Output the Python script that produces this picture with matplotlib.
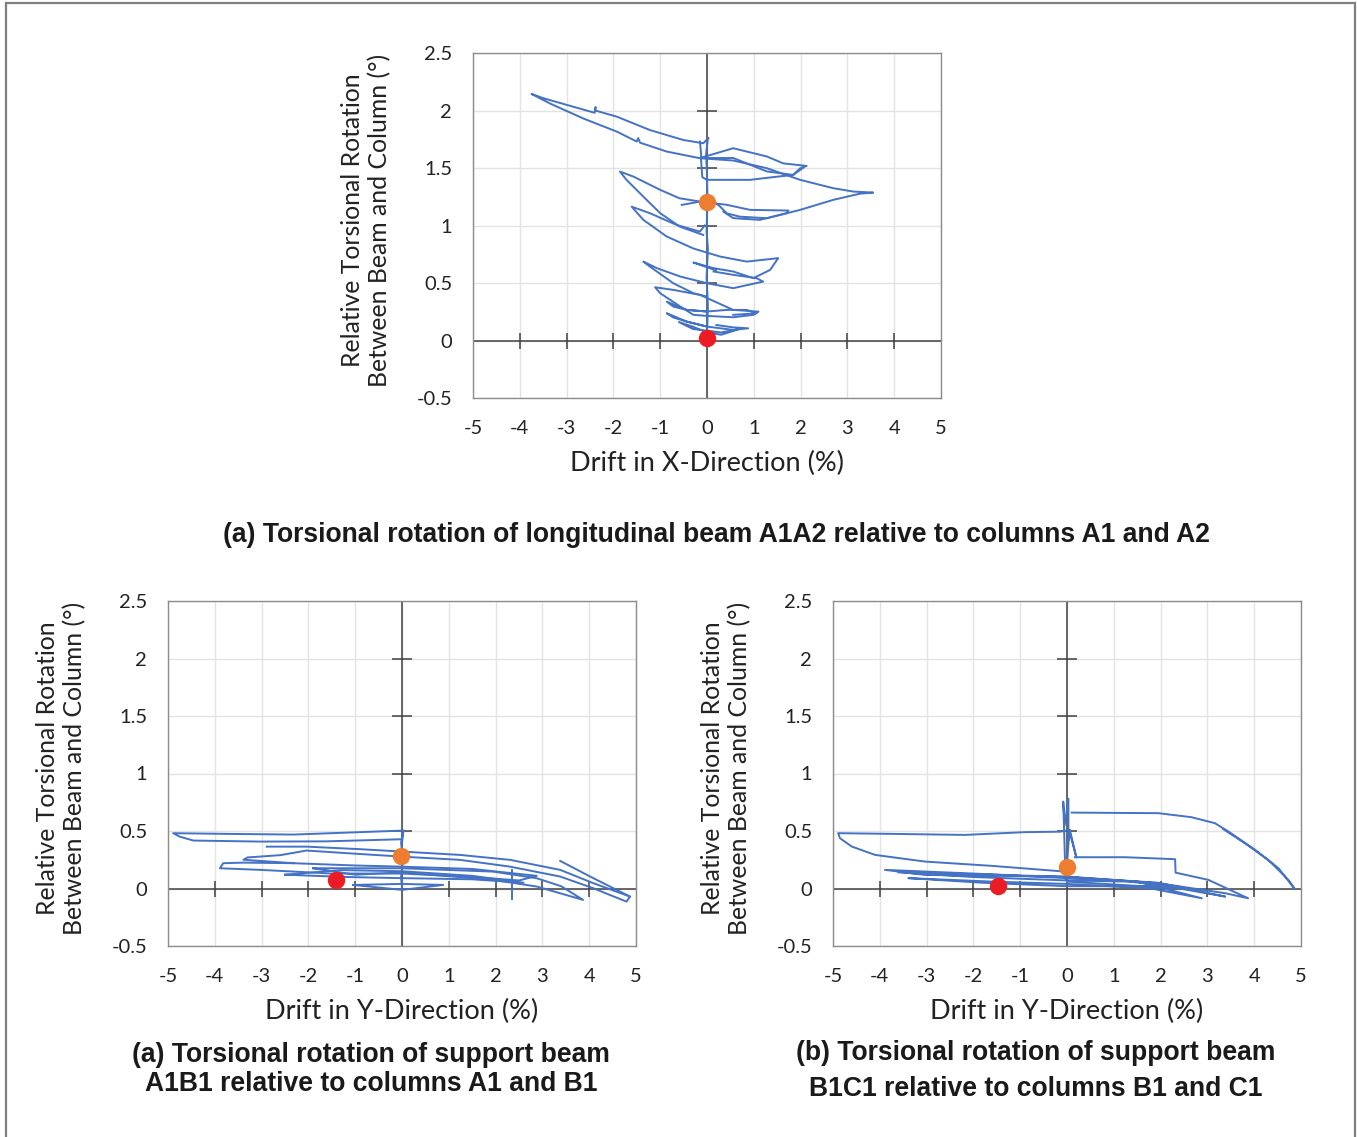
import matplotlib
matplotlib.use("Agg")
import matplotlib.pyplot as plt
from matplotlib.patches import Rectangle

W, H = 1357, 1137
DPI = 100

# ---------------- data ----------------
x_ticks = [-5, -4, -3, -2, -1, 0, 1, 2, 3, 4, 5]
y_ticks = [-0.5, 0, 0.5, 1, 1.5, 2, 2.5]
y_tick_labels = ["-0.5", "0", "0.5", "1", "1.5", "2", "2.5"]

# (a) longitudinal beam A1A2, drift in X
a_loop1 = [(0.03, 1.76), (-0.08, 1.715), (-0.51, 1.744), (-1.22, 1.83), (-1.93, 1.947),
           (-2.39, 2.0), (-2.38, 2.03), (-2.40, 1.98), (-3.50, 2.107), (-3.75, 2.144),
           (-3.35, 2.06), (-2.64, 1.93), (-1.93, 1.817), (-1.50, 1.73), (-1.47, 1.76),
           (-1.43, 1.72), (-0.86, 1.643), (-0.15, 1.585), (0.56, 1.565), (1.28, 1.498),
           (1.99, 1.397), (2.70, 1.324), (3.13, 1.295), (3.55, 1.286), (3.27, 1.277),
           (2.70, 1.223), (1.99, 1.136), (1.28, 1.063), (0.70, 1.077), (0.42, 1.106),
           (0.28, 1.165), (0.14, 1.208), (-0.15, 1.208), (-0.54, 1.179)]
a_loop2 = [(-0.15, 1.73), (-0.12, 1.59), (0.56, 1.672), (1.28, 1.60), (1.63, 1.54),
           (2.13, 1.518), (1.99, 1.497), (1.84, 1.44), (1.40, 1.42), (0.92, 1.397),
           (0.0, 1.397), (-0.10, 1.42), (-0.13, 1.59)]
a_loop2b = [(-0.10, 1.587), (0.56, 1.587), (1.28, 1.47), (1.84, 1.44), (2.05, 1.50)]
a_loop3 = [(-0.08, 0.918), (-0.58, 0.99), (-1.0, 1.107), (-1.36, 1.251), (-1.72, 1.397),
           (-1.86, 1.469), (-1.57, 1.425), (-1.0, 1.31), (-0.59, 1.237), (-0.15, 1.208),
           (0.42, 1.18), (0.92, 1.136), (1.74, 1.13), (1.70, 1.107), (1.13, 1.049),
           (0.56, 1.064), (0.35, 1.12)]
a_loop4 = [(-0.05, 1.0), (-0.15, 0.947), (-0.65, 1.005), (-1.22, 1.107), (-1.61, 1.164),
           (-1.36, 1.049), (-0.86, 0.904), (-0.29, 0.80), (0.28, 0.73), (0.85, 0.686),
           (1.52, 0.716), (1.35, 0.614), (0.99, 0.542), (0.56, 0.60), (0.14, 0.629),
           (-0.29, 0.678), (0.19, 0.61)]
a_loop5 = [(0.0, 0.382), (-0.29, 0.411), (-0.72, 0.498), (-1.22, 0.643), (-1.36, 0.686),
           (-1.07, 0.629), (-0.57, 0.556), (0.0, 0.498), (0.56, 0.455), (1.20, 0.512),
           (1.06, 0.542), (0.56, 0.571), (0.14, 0.60)]
a_loop6 = [(0.0, 0.214), (-0.29, 0.223), (-0.57, 0.295), (-1.0, 0.411), (-1.11, 0.463),
           (-0.72, 0.44), (-0.15, 0.397), (0.56, 0.266), (1.10, 0.251), (0.99, 0.223),
           (0.56, 0.202), (0.0, 0.214)]
a_loop7 = [(0.0, 0.252), (-0.43, 0.266), (-0.72, 0.295), (-0.86, 0.338), (-0.43, 0.266),
           (0.0, 0.252), (0.42, 0.266), (0.85, 0.266), (1.06, 0.237), (0.56, 0.223)]
a_loop8 = [(0.0, 0.121), (-0.43, 0.164), (-0.72, 0.20), (-0.86, 0.237), (-0.43, 0.164),
           (0.0, 0.121), (0.56, 0.092), (0.88, 0.106), (0.56, 0.114), (0.20, 0.135)]
a_loop9 = [(0.0, 0.07), (-0.30, 0.12), (-0.60, 0.16), (-0.30, 0.10), (0.30, 0.07),
           (0.70, 0.10), (0.30, 0.05), (0.0, 0.07)]
a_spine = [(0.0, 0.05), (0.02, 0.30), (-0.01, 0.55), (0.02, 0.80), (-0.01, 0.95),
           (0.01, 1.20), (0.0, 1.45), (-0.02, 1.62), (0.02, 1.76)]
a_red = (0.0, 0.02)
a_orange = (0.0, 1.205)

# (a) support beam A1B1, drift in Y
b_loop1 = [(0.03, 0.504), (-0.90, 0.49), (-2.32, 0.469), (-3.75, 0.475), (-4.89, 0.481),
           (-4.75, 0.451), (-4.46, 0.417), (-3.03, 0.408), (-1.61, 0.41), (-0.04, 0.428)]
b_loop2 = [(-2.89, 0.364), (-2.04, 0.364), (-0.90, 0.342), (0.0, 0.321), (1.24, 0.292),
           (2.31, 0.249), (3.38, 0.162), (4.09, 0.046), (4.87, -0.07), (4.80, -0.114),
           (4.44, -0.056), (4.09, 0.002), (3.38, 0.104), (2.31, 0.19), (1.24, 0.249),
           (0.0, 0.277), (-0.90, 0.30), (-2.04, 0.33), (-2.60, 0.29), (-3.30, 0.27),
           (-3.39, 0.25), (-2.32, 0.22), (-1.0, 0.20), (0.0, 0.19), (1.50, 0.17),
           (2.88, 0.11), (2.50, 0.07), (1.50, 0.10), (0.0, 0.13), (-1.50, 0.13),
           (-3.03, 0.162), (-3.89, 0.176), (-3.82, 0.22), (-3.39, 0.225), (-2.32, 0.22)]
b_loop3 = [(3.38, 0.24), (4.02, 0.104), (4.87, -0.07)]
b_loop4 = [(-1.90, 0.176), (0.0, 0.176), (1.95, 0.147), (2.88, 0.089), (3.40, 0.02),
           (3.87, -0.099), (2.88, 0.017), (1.95, 0.075), (0.0, 0.14), (-1.0, 0.12),
           (-1.90, 0.176)]
b_loop5 = [(-1.04, 0.031), (0.0, -0.012), (0.88, 0.031), (0.0, 0.04), (-1.04, 0.031)]
b_loop6 = [(-2.5, 0.12), (-1.2, 0.10), (0.0, 0.09), (1.5, 0.08), (2.6, 0.05),
           (1.5, 0.11), (0.0, 0.15), (-1.3, 0.16), (-2.5, 0.12)]
b_spine = [(0.0, 0.0), (-0.02, 0.10), (0.02, 0.25), (-0.02, 0.40), (0.03, 0.50), (0.0, 0.40)]
b_step = [(2.34, 0.16), (2.34, -0.09)]
b_red = (-1.41, 0.075)
b_orange = (-0.02, 0.28)

# (b) support beam B1C1, drift in Y
c_loop1 = [(0.06, 0.51), (-0.15, 0.494), (-0.90, 0.49), (-2.18, 0.466), (-3.75, 0.475),
           (-4.89, 0.481), (-4.85, 0.437), (-4.60, 0.365), (-4.10, 0.292), (-3.03, 0.234),
           (-1.61, 0.197), (-0.04, 0.147)]
c_loop2 = [(0.10, 0.66), (1.95, 0.655), (2.66, 0.62), (3.16, 0.568), (3.45, 0.495),
           (4.02, 0.336), (4.52, 0.176), (4.87, -0.006), (4.73, 0.075), (4.30, 0.249),
           (3.80, 0.394), (3.34, 0.516)]
c_loop3 = [(0.17, 0.272), (1.24, 0.272), (2.31, 0.255), (2.32, 0.138), (3.02, 0.075),
           (3.87, -0.085), (3.38, -0.041), (1.95, 0.046), (0.0, 0.104), (-1.61, 0.11),
           (-3.03, 0.118), (-3.89, 0.162), (-2.0, 0.13), (0.0, 0.09), (1.50, 0.06),
           (2.88, -0.085), (1.80, 0.0), (0.0, 0.04), (-1.60, 0.06), (-3.39, 0.09),
           (-1.80, 0.05), (0.0, 0.02), (1.50, 0.02), (2.38, 0.017), (1.30, 0.06),
           (0.0, 0.07), (-2.0, 0.10), (-3.60, 0.14), (-1.50, 0.12), (0.0, 0.10),
           (1.95, 0.05), (3.38, -0.07), (2.40, 0.0), (0.0, 0.06)]
c_spine = [(-0.03, 0.075), (-0.06, 0.476), (-0.08, 0.756), (-0.05, 0.55), (0.03, 0.78),
           (0.03, 0.42), (0.06, 0.51), (0.20, 0.27), (0.05, 0.50), (0.0, 0.20)]
c_red = (-1.48, 0.023)
c_orange = (0.0, 0.185)

LINE_COLOR = "#4472C4"
RED = "#ED1C24"
ORANGE = "#ED7D31"

plt.rcParams["font.family"] = ["Lato", "DejaVu Sans"]

fig = plt.figure(figsize=(W / DPI, H / DPI), dpi=DPI)


def px_axes(left, top, right, bottom):
    return fig.add_axes([left / W, 1 - bottom / H, (right - left) / W, (bottom - top) / H])


def draw_panel(ax, segments, red, orange):
    ax.set_xlim(-5, 5)
    ax.set_ylim(-0.5, 2.5)
    ax.set_xticks(x_ticks)
    ax.set_xticklabels([str(v) for v in x_ticks])
    ax.set_yticks(y_ticks)
    ax.set_yticklabels(y_tick_labels)
    ax.tick_params(length=0, labelsize=14.5, colors="#222222")
    ax.tick_params(axis="x", pad=16)
    ax.tick_params(axis="y", pad=15)
    ax.grid(True, color="#E3E3E3", lw=1.0)
    ax.set_axisbelow(True)
    for sp in ax.spines.values():
        sp.set_color("#8C8C8C")
        sp.set_linewidth(1.0)
    # axes crossing at zero with cross-shaped tick marks
    ax.axhline(0, color="#404040", lw=1.1, zorder=2)
    ax.axvline(0, color="#404040", lw=1.1, zorder=2)
    xt = [v for v in x_ticks if v not in (-5, 0, 5)]
    ax.plot(xt, [0] * len(xt), ls="none", marker="|", ms=12, mew=1.1, color="#404040", zorder=2)
    yt = [v for v in y_ticks if v > 0 and v < 2.5]
    ax.plot([0] * len(yt), yt, ls="none", marker="_", ms=14, mew=1.1, color="#404040", zorder=2)
    for seg in segments:
        xs = [p[0] for p in seg]
        ys = [p[1] for p in seg]
        ax.plot(xs, ys, color=LINE_COLOR, lw=1.4, zorder=3, solid_joinstyle="round")
    ax.plot([red[0]], [red[1]], "o", ms=11.5, color=RED, zorder=5)
    ax.plot([orange[0]], [orange[1]], "o", ms=11.5, color=ORANGE, zorder=5)


ax_a = px_axes(473, 53, 941, 398)
draw_panel(ax_a, [a_loop1, a_loop2, a_loop2b, a_loop3, a_loop4, a_loop5, a_loop6,
                  a_loop7, a_loop8, a_loop9, a_spine], a_red, a_orange)

ax_b = px_axes(168, 601, 636, 946)
draw_panel(ax_b, [b_loop1, b_loop2, b_loop3, b_loop4, b_loop5, b_loop6, b_spine, b_step],
           b_red, b_orange)

ax_c = px_axes(833, 601, 1301, 946)
draw_panel(ax_c, [c_loop1, c_loop2, c_loop3, c_spine], c_red, c_orange)

ylab = "Relative Torsional Rotation\nBetween Beam and Column (°)"
ylab_kw = dict(fontsize=17.8, color="#222222", ha="center", va="center")
xlab_kw = dict(fontsize=19.5, color="#222222", ha="center", va="center")


def ftext(x, y, s, **kw):
    fig.text(x / W, 1 - y / H, s, **kw)


ftext(366, 220, ylab, rotation=90, linespacing=1.2, **ylab_kw)
ftext(61, 768, ylab, rotation=90, linespacing=1.2, **ylab_kw)
ftext(726, 768, ylab, rotation=90, linespacing=1.2, **ylab_kw)
ftext(707, 463, "Drift in X-Direction (%)", **xlab_kw)
ftext(402, 1011, "Drift in Y-Direction (%)", **xlab_kw)
ftext(1067, 1011, "Drift in Y-Direction (%)", **xlab_kw)

title_kw = dict(fontsize=19.1, fontweight="bold", color="#1a1a1a", ha="center", va="center",
                family="Liberation Sans")
ftext(716, 535, "(a) Torsional rotation of longitudinal beam A1A2 relative to columns A1 and A2", **title_kw)
ftext(371, 1055, "(a) Torsional rotation of support beam", **title_kw)
ftext(371, 1084, "A1B1 relative to columns A1 and B1", **title_kw)
ftext(1036, 1053, "(b) Torsional rotation of support beam", **title_kw)
ftext(1036, 1089, "B1C1 relative to columns B1 and C1", **title_kw)

# outer frame of the figure
fig.patches.append(Rectangle((6 / W, -0.01), (1355 - 6) / W, 1 - 3 / H + 0.01,
                             transform=fig.transFigure, fill=False,
                             edgecolor="#7F7F7F", lw=1.6))

fig.savefig("out.png", dpi=DPI)
